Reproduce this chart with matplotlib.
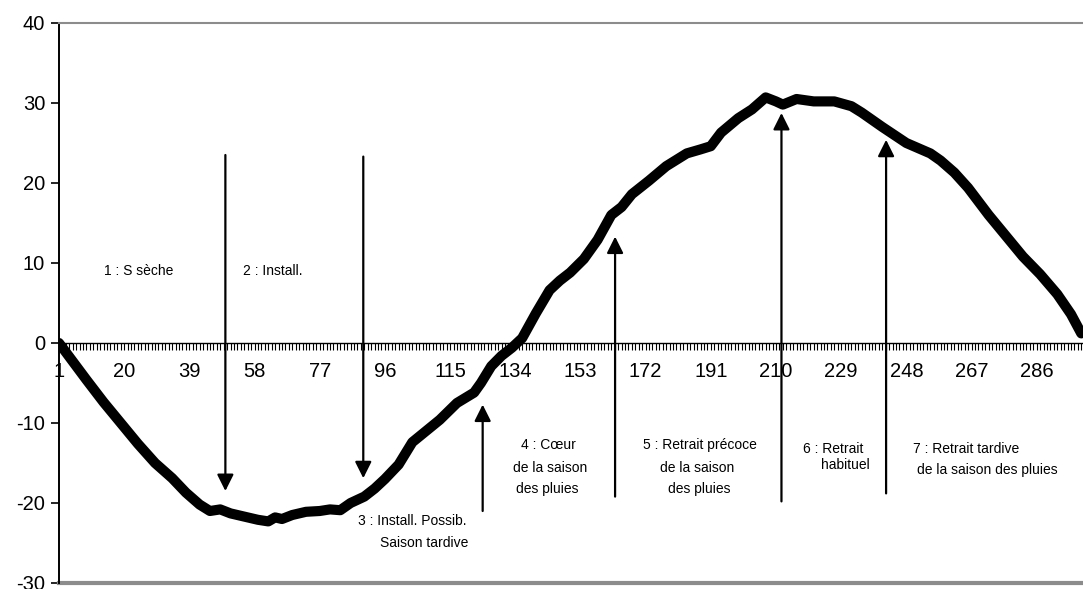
import matplotlib
matplotlib.use("Agg")
import matplotlib.pyplot as plt
from matplotlib.ticker import FixedLocator, NullFormatter

plt.rcParams['font.family'] = ['Liberation Sans', 'DejaVu Sans']
plt.rcParams['axes.unicode_minus'] = False

# jours (catégories) et valeurs
days = [1, 5, 9, 14, 19, 24, 29, 34, 38, 42, 45, 48, 51, 55, 59, 62, 64, 66, 69, 73,
        77, 80, 83, 86, 90, 93, 96, 100, 104, 108, 112, 117, 122, 124, 127, 130, 133,
        136, 140, 144, 147, 150, 154, 158, 162, 165, 168, 173, 178, 184, 188, 191, 194,
        199, 203, 207, 210, 212, 216, 221, 227, 232, 235, 241, 248, 255, 258, 262, 266,
        272, 277, 282, 287, 292, 296, 299]
values = [0.0, -2.3, -4.6, -7.4, -10.0, -12.6, -15.0, -16.9, -18.7, -20.2, -21.0, -20.8,
          -21.3, -21.7, -22.1, -22.3, -21.8, -22.0, -21.5, -21.1, -21.0, -20.8, -20.9,
          -20.0, -19.2, -18.2, -17.0, -15.2, -12.4, -11.0, -9.6, -7.5, -6.2, -5.0, -2.9,
          -1.6, -0.6, 0.6, 3.7, 6.6, 7.8, 8.8, 10.5, 12.9, 16.0, 17.0, 18.6, 20.3, 22.1,
          23.7, 24.2, 24.6, 26.3, 28.1, 29.2, 30.7, 30.2, 29.8, 30.5, 30.2, 30.2, 29.6,
          28.8, 27.0, 25.0, 23.7, 22.8, 21.3, 19.4, 16.0, 13.4, 10.8, 8.6, 6.1, 3.6, 1.2]

x_labels = list(range(1, 300, 19))
y_ticks = [-30, -20, -10, 0, 10, 20, 30, 40]

# flèches : position (jour), départ, arrivée
arrow_x = [49.5, 89.7, 124.5, 163.1, 211.6, 242.1]
arrow_from = [23.5, 23.3, -21.0, -19.2, -19.8, -18.8]
arrow_to = [-18.5, -16.9, -7.7, 13.3, 28.75, 25.4]

# textes des phases
phase_text = ["1 : S sèche", "2 : Install.",
              "3 : Install. Possib.", "Saison tardive",
              "4 : Cœur", "de la saison", "des pluies",
              "5 : Retrait précoce", "de la saison", "des pluies",
              "6 : Retrait", "habituel",
              "7 : Retrait tardive", "de la saison des pluies"]
phase_x = [24.1, 63.2, 103.9, 107.4, 143.7, 144.2, 143.3, 187.7, 187.1, 187.5,
           226.7, 230.3, 265.3, 271.7]
phase_y = [8.95, 8.95, -22.3, -25.0, -12.8, -15.6, -18.25, -12.8, -15.6, -18.25,
           -13.3, -15.2, -13.3, -15.9]


def main():
    fig = plt.figure(figsize=(10.83, 5.89), dpi=100)
    ax = fig.add_axes([59 / 1083, 6 / 589, 1024 / 1083, 560 / 589])

    ax.plot(days, values, color='black', lw=7.3, solid_joinstyle='round',
            solid_capstyle='round', zorder=3)

    ax.set_xlim(1, 299.5)
    ax.set_ylim(-30, 40)

    # axes façon Excel
    ax.spines['right'].set_visible(False)
    ax.spines['top'].set_color('#8c8c8c')
    ax.spines['top'].set_linewidth(1.5)
    ax.spines['left'].set_linewidth(1.4)
    ax.spines['bottom'].set_position(('data', 0))
    ax.spines['bottom'].set_linewidth(1.0)
    ax.axhline(-30, color='#8c8c8c', lw=3, clip_on=False, zorder=2)

    ax.xaxis.set_major_locator(FixedLocator(x_labels))
    ax.xaxis.set_minor_locator(FixedLocator(list(range(1, 300))))
    ax.xaxis.set_minor_formatter(NullFormatter())
    ax.set_xticklabels([str(v) for v in x_labels])
    ax.tick_params(axis='x', which='both', direction='out', length=5, width=0.8,
                   labelsize=14.5, pad=9)

    ax.set_yticks(y_ticks)
    ax.tick_params(axis='y', direction='out', length=6, width=1.2,
                   labelsize=14.5, pad=4)

    for xa, y0, y1 in zip(arrow_x, arrow_from, arrow_to):
        ax.annotate('', xy=(xa, y1), xytext=(xa, y0),
                    arrowprops=dict(arrowstyle='-|>,head_length=1.0,head_width=0.5',
                                    mutation_scale=10, color='black', lw=1.6,
                                    shrinkA=0, shrinkB=0),
                    zorder=4)

    for t, xt, yt in zip(phase_text, phase_x, phase_y):
        ax.text(xt, yt, t, fontsize=10, ha='center', va='center', zorder=5)

    fig.savefig('out.png', dpi=100)


if __name__ == "__main__":
    main()
